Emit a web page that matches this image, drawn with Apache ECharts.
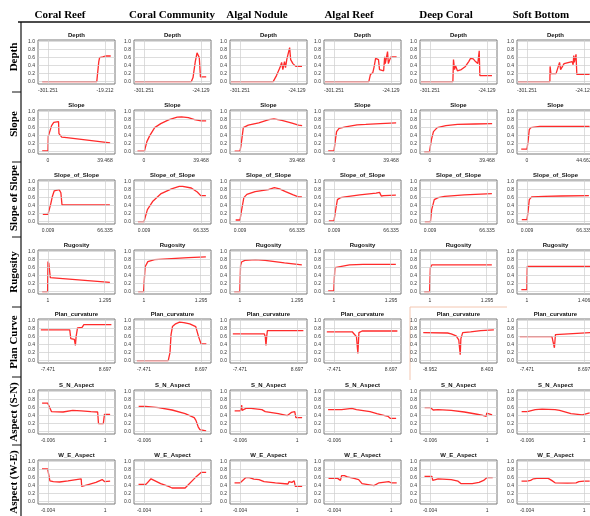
<!DOCTYPE html>
<html><head><meta charset="utf-8">
<script src="https://cdn.jsdelivr.net/npm/echarts@6/dist/echarts.min.js"></script>
<style>html,body{margin:0;padding:0;background:#fff}#c{width:590px;height:516px}</style>
</head><body><div id="c"></div>
<script>
// ---------- categories / labels ----------
const habitats = ['Coral Reef','Coral Community','Algal Nodule','Algal Reef','Deep Coral','Soft Bottom'];
const rowLabels = ['Depth','Slope','Slope of Slope','Rugosity','Plan Curve','Aspect (S-N)','Aspect (W-E)'];
const panelTitles = ['Depth','Slope','Slope_of_Slope','Rugosity','Plan_curvature','S_N_Aspect','W_E_Aspect'];
const yTickValues = [0,0.2,0.4,0.6,0.8,1.0];

// x tick label values per row (one pair per habitat)
const depthTicks = [[-301.251,-19.212],[-301.251,-24.129],[-301.251,-24.129],[-301.251,-24.129],[-301.251,-24.129],[-301.251,-24.129]];
const slopeTicks = [[0,39.468],[0,39.468],[0,39.468],[0,39.468],[0,39.468],[0,44.662]];
const sosTicks = [[0.009,66.335],[0.009,66.335],[0.009,66.335],[0.009,66.335],[0.009,66.335],[0.009,66.335]];
const rugTicks = [[1,1.295],[1,1.295],[1,1.295],[1,1.295],[1,1.295],[1,1.406]];
const planTicks = [[-7.471,8.697],[-7.471,8.697],[-7.471,8.697],[-7.471,8.697],[-8.952,8.403],[-7.471,8.697]];
const snTicks = [[-0.006,1],[-0.006,1],[-0.006,1],[-0.006,1],[-0.006,1],[-0.006,1]];
const weTicks = [[-0.004,1],[-0.004,1],[-0.004,1],[-0.004,1],[-0.004,1],[-0.004,1]];

// ---------- response curves [x, response] ----------
const depthCoralReef = [[-330,0],[-60,0],[-57,0.05],[-50,0.5],[-46,0.6],[-30,0.62],[-18,0.64],[9,0.64]];
const depthCoralComm = [[-345,0],[-71,0],[-63,0.1],[-52,0.5],[-43.5,0.72],[-38,0.75],[-32.5,0.6],[-27,0.12],[1,0.12]];
const depthAlgalNod = [[-345,0],[-140,0],[-124,0.15],[-107,0.35],[-99,0.48],[-93,0.3],[-85,0.5],[-80,0.35],[-74,0.55],[-66,0.6],[-60,0.85],[-55,0.55],[-44,0.45],[-30,0.38],[0,0.38]];
const depthAlgalReef = [[-345,0],[-132,0],[-124,0.18],[-113,0.22],[-107,0.35],[-99,0.58],[-91,0.6],[-85,0.55],[-80,0.3],[-71,0.25],[-60,0.27],[-55,0.62],[-52,0.45],[-44,0.5],[-41,0.75],[-37,0.45],[-30,0.55],[-24,0.62],[3,0.62]];
const depthDeepCoral = [[-345,0],[-190,0],[-187,0.55],[-182,0.3],[-177,0.4],[-168,0.27],[-149,0.3],[-129,0.38],[-113,0.5],[-104,0.58],[-91,0.57],[-80,0.5],[-69,0.45],[-63,0.5],[-62,0.77],[-59,0.15],[0,0.15]];
const depthSoftBottom = [[-345,0],[-190,0],[-189,0.38],[-185,0.2],[-160,0.2],[-152,0.18],[-143,0.48],[-138,0.3],[-129,0.33],[-121,0.45],[-115,0.5],[-82,0.5],[-77,0.42],[-74,0.65],[-71,0.48],[-63,0.68],[-59,0.18],[3,0.18]];

const slopeCoralReef = [[-4,0.02],[0,0.02],[0.2,0.38],[1.2,0.42],[2.5,0.65],[4,0.73],[5,0.75],[7.3,0.75],[7.6,0.45],[8.8,0.42],[9.5,0.36],[13,0.35],[43,0.22]];
const slopeCoralComm = [[-4.5,0.01],[0.3,0.01],[2,0.25],[4,0.4],[7.4,0.6],[11.6,0.7],[17.4,0.8],[23,0.86],[26,0.87],[30.7,0.85],[35,0.8],[39.5,0.77],[43,0.77]];
const slopeAlgalNod = [[-3.7,0.01],[0,0.01],[0.7,0.15],[2.3,0.6],[5.7,0.66],[13,0.72],[20,0.8],[23.5,0.82],[29,0.78],[36,0.71],[40.5,0.66],[43,0.65]];
const slopeAlgalReef = [[-4,0.02],[0,0.02],[1,0.3],[1.8,0.5],[3.5,0.58],[8,0.62],[16,0.67],[22,0.68],[32,0.7],[43,0.72]];
const slopeDeepCoral = [[-4,0],[-0.3,0],[1,0.3],[2.4,0.5],[5,0.6],[11,0.65],[19,0.68],[31,0.69],[43,0.7]];
const slopeSoftBottom = [[-4.5,0.06],[0,0.06],[1,0.3],[1.8,0.55],[3,0.6],[4.5,0.62],[10,0.63],[49,0.63]];

const sosCoralReef = [[-6,0.18],[0,0.18],[1,0.2],[3.3,0.45],[5,0.62],[7.3,0.77],[9,0.8],[13,0.8],[15,0.72],[16,0.7],[16.3,0.42],[72,0.42]];
const sosCoralComm = [[-7,0],[0,0],[1,0.05],[4,0.3],[10,0.5],[20,0.7],[32,0.82],[41,0.88],[45,0.88],[55,0.84],[62,0.74],[66,0.65],[72,0.65]];
const sosAlgalNod = [[-5,0.04],[0,0.04],[2,0.3],[4.5,0.6],[8,0.68],[17.6,0.75],[33,0.8],[40,0.85],[46,0.82],[53,0.75],[62,0.67],[68,0.62],[72,0.62]];
const sosAlgalReef = [[-6,0.02],[0,0.02],[2,0.3],[4,0.55],[7.6,0.6],[13,0.62],[30,0.67],[49,0.71],[53,0.73],[55,0.64],[58,0.65],[72,0.66]];
const sosDeepCoral = [[-6,0],[0.5,0],[2,0.3],[5,0.55],[9.5,0.6],[17,0.63],[40,0.67],[72,0.7]];
const sosSoftBottom = [[-6,0.05],[0,0.05],[1.5,0.3],[2.7,0.55],[5.5,0.62],[20,0.63],[40,0.64],[72,0.65]];

const rugCoralReef = [[0.97,0],[0.998,0],[1.0,0.75],[1.002,0.6],[1.004,0.72],[1.012,0.35],[1.32,0.23]];
const rugCoralComm = [[0.97,0],[0.998,0],[1.003,0.4],[1.006,0.62],[1.02,0.75],[1.055,0.8],[1.12,0.82],[1.23,0.85],[1.32,0.87]];
const rugAlgalNod = [[0.97,0],[0.999,0],[1.003,0.65],[1.008,0.74],[1.025,0.78],[1.08,0.8],[1.13,0.78],[1.23,0.72],[1.32,0.67]];
const rugAlgalReef = [[0.97,0.02],[0.999,0.02],[1.002,0.35],[1.005,0.6],[1.015,0.64],[1.08,0.67],[1.15,0.68],[1.32,0.68]];
const rugDeepCoral = [[0.97,0],[0.998,0],[1.002,0.6],[1.01,0.67],[1.32,0.67]];
const rugSoftBottom = [[0.96,0.05],[0.999,0.05],[1.002,0.63],[1.45,0.63]];

const planCoralReef = [[-9.5,0.77],[-1.3,0.77],[-1.0,0.55],[0,0.53],[0.3,0.38],[0.5,0.6],[0.9,0.82],[2.2,0.83],[2.7,0.9],[10.5,0.9]];
const planCoralComm = [[-9.5,0],[-0.6,0],[-0.1,0.2],[0.2,0.65],[0.6,0.85],[1.5,0.92],[2.6,0.96],[3.8,0.95],[5.5,0.92],[7.2,0.85],[8.0,0.6],[8.7,0.42],[10.2,0.42]];
const planAlgalNod = [[-9.5,0.67],[-0.6,0.67],[-0.3,0.6],[-0.1,0.38],[0.1,0.6],[0.3,0.75],[10.5,0.75]];
const planAlgalReef = [[-9.5,0.72],[-2.3,0.72],[-1.7,0.66],[-1.1,0.6],[-0.7,0.18],[-0.4,0.7],[0.5,0.74],[10.5,0.74]];
const planDeepCoral = [[-11,0.7],[-3.6,0.69],[-2.5,0.67],[-1,0.62],[-0.2,0.52],[0.25,0.15],[0.45,0.55],[1,0.7],[3.4,0.72],[6.5,0.75],[10.5,0.77]];
const planSoftBottom = [[-9.5,0.6],[-0.4,0.6],[0,0.55],[0.3,0.32],[0.6,0.65],[1.1,0.7],[10.5,0.7]];

const snCoralReef = [[-0.11,0.71],[-0.01,0.71],[0.055,0.5],[0.26,0.49],[0.29,0.53],[0.43,0.53],[0.58,0.52],[0.75,0.5],[0.87,0.49],[0.885,0.2],[0.97,0.2],[0.99,0.43],[1.09,0.43]];
const snCoralComm = [[-0.1,0.63],[0.02,0.63],[0.25,0.6],[0.49,0.54],[0.72,0.45],[0.88,0.35],[0.91,0.28],[0.95,0.12],[0.98,0.05],[1.01,0.02],[1.09,0.02]];
const snAlgalNod = [[-0.1,0.52],[0.0,0.52],[0.02,0.53],[0.025,0.66],[0.03,0.53],[0.1,0.58],[0.19,0.58],[0.38,0.55],[0.44,0.5],[0.67,0.45],[0.83,0.4],[0.9,0.48],[0.96,0.5],[0.98,0.35],[1.09,0.35]];
const snAlgalReef = [[-0.11,0.55],[0.13,0.55],[0.16,0.58],[0.31,0.58],[0.39,0.55],[0.63,0.5],[0.75,0.45],[0.89,0.4],[0.95,0.38],[0.99,0.33],[1.09,0.33]];
const snDeepCoral = [[-0.1,0.6],[0,0.6],[0.025,0.62],[0.05,0.54],[0.14,0.55],[0.37,0.53],[0.6,0.49],[0.8,0.44],[0.91,0.41],[0.985,0.38],[0.995,0.46],[1.01,0.42],[1.09,0.42]];
const snSoftBottom = [[-0.1,0.5],[0,0.5],[0.14,0.55],[0.26,0.56],[0.49,0.55],[0.57,0.53],[0.6,0.48],[0.77,0.45],[0.97,0.42],[1.0,0.47],[1.1,0.47]];

const weCoralReef = [[-0.11,0.82],[-0.01,0.82],[0.03,0.52],[0.09,0.5],[0.2,0.49],[0.35,0.52],[0.58,0.57],[0.59,0.38],[0.69,0.42],[0.84,0.48],[0.95,0.55],[0.98,0.6],[0.99,0.5],[1.09,0.51]];
const weCoralComm = [[-0.1,0.43],[0.03,0.43],[0.12,0.57],[0.29,0.45],[0.43,0.38],[0.49,0.34],[0.72,0.34],[0.9,0.6],[1.0,0.73],[1.09,0.73]];
const weAlgalNod = [[-0.1,0.47],[0,0.47],[0.03,0.5],[0.1,0.6],[0.16,0.6],[0.24,0.56],[0.33,0.55],[0.42,0.5],[0.62,0.47],[0.84,0.44],[0.86,0.5],[0.91,0.48],[0.95,0.52],[0.97,0.38],[1.09,0.38]];
const weAlgalReef = [[-0.1,0.58],[0.06,0.58],[0.11,0.53],[0.13,0.65],[0.18,0.65],[0.23,0.62],[0.35,0.58],[0.43,0.55],[0.49,0.45],[0.51,0.4],[0.7,0.4],[0.73,0.45],[0.79,0.47],[0.96,0.5],[1.0,0.47],[1.1,0.47]];
const weDeepCoral = [[-0.1,0.63],[0.03,0.63],[0.045,0.53],[0.08,0.58],[0.14,0.57],[0.37,0.55],[0.49,0.51],[0.54,0.45],[0.74,0.45],[0.86,0.48],[0.94,0.53],[1.0,0.6],[1.1,0.6]];
const weSoftBottom = [[-0.1,0.51],[0,0.51],[0.06,0.53],[0.11,0.57],[0.17,0.58],[0.37,0.58],[0.43,0.53],[0.49,0.47],[0.71,0.46],[0.86,0.47],[0.91,0.5],[1.0,0.51],[1.1,0.51]];

// ---------- assemble ----------
const rowTicks = [depthTicks, slopeTicks, sosTicks, rugTicks, planTicks, snTicks, weTicks];
const rowCurves = [
  [depthCoralReef, depthCoralComm, depthAlgalNod, depthAlgalReef, depthDeepCoral, depthSoftBottom],
  [slopeCoralReef, slopeCoralComm, slopeAlgalNod, slopeAlgalReef, slopeDeepCoral, slopeSoftBottom],
  [sosCoralReef, sosCoralComm, sosAlgalNod, sosAlgalReef, sosDeepCoral, sosSoftBottom],
  [rugCoralReef, rugCoralComm, rugAlgalNod, rugAlgalReef, rugDeepCoral, rugSoftBottom],
  [planCoralReef, planCoralComm, planAlgalNod, planAlgalReef, planDeepCoral, planSoftBottom],
  [snCoralReef, snCoralComm, snAlgalNod, snAlgalReef, snDeepCoral, snSoftBottom],
  [weCoralReef, weCoralComm, weAlgalNod, weAlgalReef, weDeepCoral, weSoftBottom]
];

// layout
const colLeft = [38, 134, 230, 324, 420, 517];
const rowTop = [40, 110, 180, 250, 319, 390, 460];
const plotW = 77, plotH = 44;
const headerX = [60, 172, 257, 349, 446, 541];
const rowLabelY = [57, 124, 198, 272, 342, 412, 482];
const sepY = [92, 162, 237, 307, 377, 445];
const PAD = 0.175;

const grids = [], xAxes = [], yAxes = [], series = [], graphics = [];
const labelFont = '"Liberation Sans", Arial, sans-serif';
const gridLineStyle = { color: '#cfcfcf', width: 0.7, type: 'solid' };

rowCurves.forEach((curves, r) => {
  curves.forEach((curve, c) => {
    const idx = grids.length;
    const [lo, hi] = rowTicks[r][c];
    const span = hi - lo;
    grids.push({
      left: colLeft[c], top: rowTop[r], width: plotW, height: plotH,
      show: true, borderColor: '#7a7a7a', borderWidth: 1, backgroundColor: '#fff',
      containLabel: false, outerBoundsMode: 'none'
    });
    xAxes.push({
      type: 'value', gridIndex: idx, min: lo - PAD * span, max: hi + PAD * span,
      axisLine: { show: false, onZero: false },
      axisTick: { show: false },
      axisLabel: { customValues: [lo, hi], formatter: v => String(v), fontSize: 5, color: '#333', margin: 4, fontFamily: labelFont },
      splitLine: { show: false }
    });
    yAxes.push({
      type: 'value', gridIndex: idx, min: -0.06, max: 1.04,
      axisLine: { show: false, onZero: false },
      axisTick: { show: false },
      axisLabel: { customValues: yTickValues, formatter: v => v.toFixed(1), fontSize: 5, color: '#333', margin: 3, fontFamily: labelFont },
      splitLine: { show: false }
    });
    // grid lines at the labelled tick values
    series.push({
      type: 'line', xAxisIndex: idx, yAxisIndex: idx, data: [], z: 1, silent: true, animation: false,
      markLine: {
        silent: true, symbol: ['none', 'none'], animation: false, label: { show: false },
        lineStyle: gridLineStyle,
        data: yTickValues.map(v => ({ yAxis: v })).concat([{ xAxis: lo }, { xAxis: hi }])
      }
    });
    series.push({
      type: 'line', xAxisIndex: idx, yAxisIndex: idx, data: curve, z: 3,
      showSymbol: false, symbol: 'none', clip: true, animation: false,
      lineStyle: { color: '#ff2b2b', width: 1.3 }
    });
    graphics.push({
      type: 'text', x: colLeft[c] + plotW / 2, y: rowTop[r] - 5,
      style: { text: panelTitles[r], align: 'center', verticalAlign: 'middle',
        fontSize: 6, fontWeight: 'bold', fontFamily: labelFont, fill: '#111' }
    });
  });
});

// column headers
habitats.forEach((h, c) => {
  graphics.push({ type: 'text', x: headerX[c], y: 15,
    style: { text: h, align: 'center', verticalAlign: 'middle', fontSize: 11, fontWeight: 'bold',
      fontFamily: '"Liberation Serif", "Times New Roman", serif', fill: '#000' } });
});
// row labels
rowLabels.forEach((t, r) => {
  graphics.push({ type: 'text', x: 14, y: rowLabelY[r], rotation: Math.PI / 2,
    style: { text: t, align: 'center', verticalAlign: 'middle', fontSize: 11, fontWeight: 'bold',
      fontFamily: '"Liberation Serif", "Times New Roman", serif', fill: '#000' } });
});
// frame lines
graphics.push({ type: 'line', shape: { x1: 18, y1: 22, x2: 590, y2: 22 }, style: { stroke: '#111', lineWidth: 1.5 } });
graphics.push({ type: 'line', shape: { x1: 21, y1: 22, x2: 21, y2: 516 }, style: { stroke: '#111', lineWidth: 1.2 } });
sepY.forEach(y => graphics.push({ type: 'line', shape: { x1: 12, y1: y, x2: 21, y2: y }, style: { stroke: '#111', lineWidth: 1 } }));
// highlight box around Deep Coral / Plan_curvature panel
graphics.push({ type: 'polyline', shape: { points: [[410, 380], [410, 307], [507, 307]] }, style: { stroke: '#f3c6b0', lineWidth: 1, fill: null } });

const chart = echarts.init(document.getElementById('c'), null, { renderer: 'canvas' });
chart.setOption({
  animation: false,
  backgroundColor: '#fff',
  grid: grids, xAxis: xAxes, yAxis: yAxes, series: series,
  graphic: { elements: graphics }
});
</script></body></html>
